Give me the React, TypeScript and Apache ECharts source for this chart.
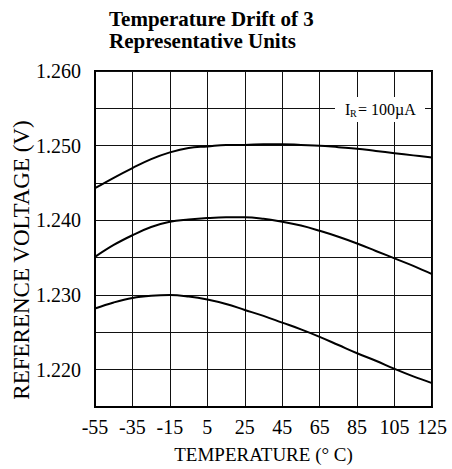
import React, { useEffect, useRef } from "react";
import * as echarts from "echarts";

const temperatures = [-55, -45, -35, -25, -15, -5, 5, 15, 25, 35, 45, 55, 65, 75, 85, 95, 105, 115, 125];
const unitTop = [1.2443, 1.2457, 1.247, 1.2482, 1.2491, 1.2497, 1.2499, 1.2501, 1.2501, 1.2502, 1.2502, 1.2501, 1.25, 1.2498, 1.2496, 1.2493, 1.249, 1.2487, 1.2484];
const unitMiddle = [1.2351, 1.2367, 1.238, 1.2391, 1.2398, 1.2401, 1.2403, 1.2404, 1.2404, 1.2402, 1.2398, 1.2393, 1.2386, 1.2378, 1.2369, 1.2359, 1.2349, 1.2339, 1.2328];
const unitBottom = [1.2282, 1.229, 1.2296, 1.2299, 1.23, 1.2298, 1.2294, 1.2288, 1.228, 1.2272, 1.2263, 1.2254, 1.2244, 1.2233, 1.2222, 1.2212, 1.2201, 1.2191, 1.2182];
const yMin = 1.215;
const yMax = 1.26;
const yStep = 0.005;

const FONT = "'Liberation Serif', 'Times New Roman', Times, serif";

export default function App() {
  const ref = useRef<HTMLDivElement>(null);
  useEffect(() => {
    if (!ref.current) return;
    const chart = echarts.init(ref.current, undefined, { renderer: "svg" });
    const mkSeries = (name: string, data: number[]) => ({
      name,
      type: "line",
      data,
      smooth: 0.4,
      showSymbol: false,
      symbol: "none",
      lineStyle: { color: "#000", width: 2 },
      z: 5,
    });
    chart.setOption({
      animation: false,
      backgroundColor: "#fff",
      title: {
        text: "Temperature Drift of 3\nRepresentative Units",
        left: 104,
        top: 3,
        textStyle: { fontFamily: FONT, fontSize: 21, fontWeight: "bold", color: "#000", lineHeight: 22 },
      },
      grid: { left: 95, right: 20, top: 71, bottom: 62, show: true, borderColor: "#000", borderWidth: 2, backgroundColor: "transparent" },
      xAxis: {
        type: "category",
        data: temperatures.map(String),
        boundaryGap: false,
        axisLine: { show: true, lineStyle: { color: "#000", width: 2 } },
        axisTick: { show: false },
        axisLabel: { interval: 1, color: "#000", fontFamily: FONT, fontSize: 20, margin: 10 },
        splitLine: { show: true, interval: 1, lineStyle: { color: "#111", width: 1 } },
        name: "TEMPERATURE (° C)",
        nameLocation: "middle",
        nameGap: 38,
        nameTextStyle: { color: "#000", fontFamily: FONT, fontSize: 19 },
      },
      yAxis: {
        type: "value",
        min: yMin,
        max: yMax,
        interval: yStep,
        axisLine: { show: true, lineStyle: { color: "#000", width: 2 } },
        axisTick: { show: false },
        axisLabel: {
          color: "#000",
          fontFamily: FONT,
          fontSize: 20,
          margin: 14,
          formatter: (v: number) => (Math.round(v * 1000) % 10 === 0 ? v.toFixed(3) : ""),
        },
        splitLine: { show: true, lineStyle: { color: "#111", width: 1 } },
      },
      graphic: [
        {
          type: "text",
          x: 21,
          y: 260,
          rotation: Math.PI / 2,
          z: 100,
          style: { text: "REFERENCE VOLTAGE (V)", fontFamily: FONT, fontSize: 23, fill: "#000", align: "center", verticalAlign: "middle" },
        },
        {
          type: "rect",
          z: 100,
          shape: { x: 335, y: 97, width: 90, height: 25 },
          style: { fill: "#fff", stroke: null },
        },
        {
          type: "text",
          z: 101,
          x: 345,
          y: 109,
          style: { text: "I", fontFamily: FONT, fontSize: 16, fill: "#000", align: "left", verticalAlign: "middle" },
        },
        {
          type: "text",
          z: 101,
          x: 350,
          y: 113,
          style: { text: "R", fontFamily: FONT, fontSize: 10, fill: "#000", align: "left", verticalAlign: "middle" },
        },
        {
          type: "text",
          z: 101,
          x: 358,
          y: 109,
          style: { text: "= 100µA", fontFamily: FONT, fontSize: 16, fill: "#000", align: "left", verticalAlign: "middle" },
        },
      ],
      series: [mkSeries("Unit 1", unitTop), mkSeries("Unit 2", unitMiddle), mkSeries("Unit 3", unitBottom)],
    });
    return () => chart.dispose();
  }, []);
  return <div ref={ref} style={{ position: "fixed", left: 0, top: 0, width: 452, height: 469 }} />;
}
